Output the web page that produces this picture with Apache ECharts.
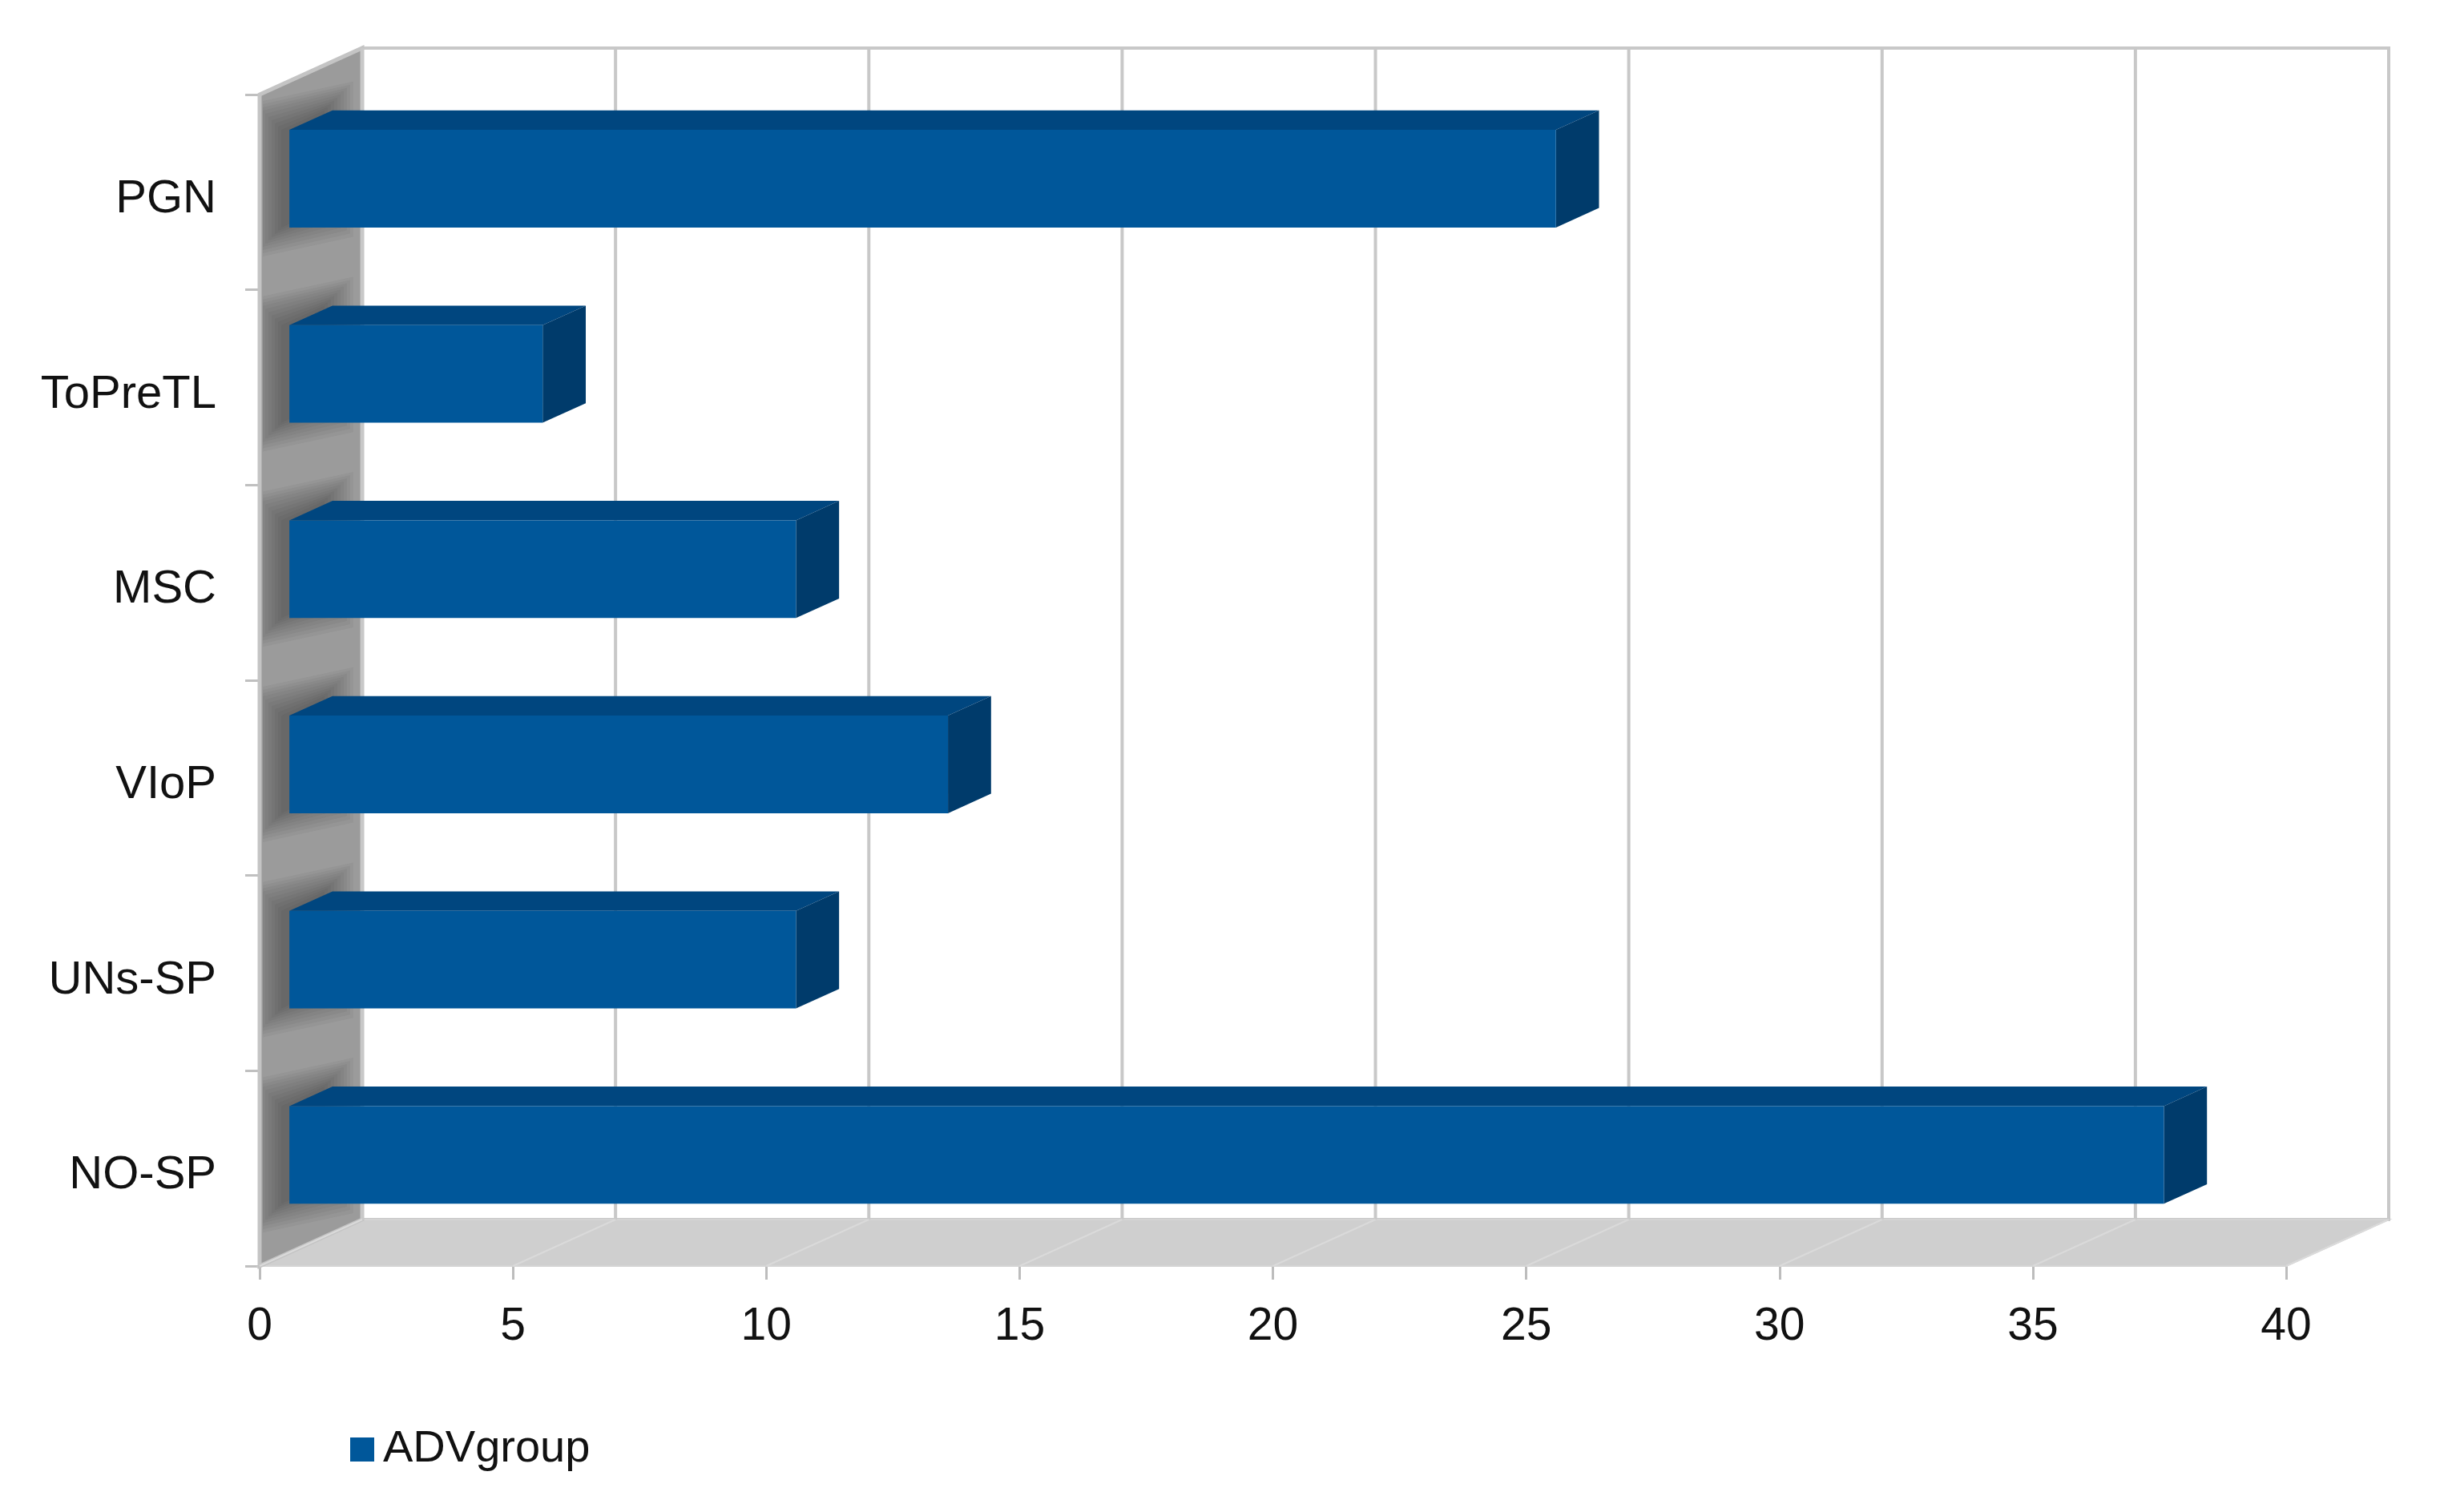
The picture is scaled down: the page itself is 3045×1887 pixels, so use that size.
<!DOCTYPE html>
<html>
<head>
<meta charset="utf-8">
<title>ADVgroup</title>
<script src="https://cdn.jsdelivr.net/npm/echarts@6/dist/echarts.min.js"></script>
<style>
  html, body { margin: 0; padding: 0; background: #fff; }
  #chart { width: 3045px; height: 1887px; }
</style>
</head>
<body>
<div id="chart"></div>
<script>
// data (bottom to top, as echarts draws a category y axis)
var categories = ['NO-SP', 'UNs-SP', 'VIoP', 'MSC', 'ToPreTL', 'PGN'];
var values = [37, 10, 13, 10, 5, 25];
var xTicks = [0, 5, 10, 15, 20, 25, 30, 35, 40];
var seriesName = 'ADVgroup';

// fake 3d depth of the plot box (pixels)
var DX = 128, DY = -58;
var FRONT = 0.29, BACK = 0.71;   // bar front / back plane as part of the depth

var myChart = echarts.init(document.getElementById('chart'));

// walls + floor
function drawFrame(params, api) {
  var cs = params.coordSys;
  var L = cs.x, T = cs.y, R = cs.x + cs.width, B = cs.y + cs.height;
  return {
    type: 'group',
    children: [
      { type: 'rect', shape: { x: L + DX, y: T + DY, width: cs.width, height: cs.height },
        style: { fill: '#fff', stroke: '#c8c8c8', lineWidth: 4 } },
      { type: 'polygon', shape: { points: [[L, B], [R, B], [R + DX, B + DY], [L + DX, B + DY]] },
        style: { fill: '#cfcfcf', stroke: '#d4d4d4', lineWidth: 2 } },
      { type: 'polygon', shape: { points: [[L, T], [L + DX, T + DY], [L + DX, B + DY], [L, B]] },
        style: { fill: '#9b9b9b', stroke: '#c4c4c4', lineWidth: 5 } }
    ]
  };
}

// grid lines on back wall and floor, one per tick
function drawGrid(params, api) {
  var cs = params.coordSys;
  var T = cs.y, B = cs.y + cs.height;
  var x = api.coord([api.value(0), categories[0]])[0];
  return {
    type: 'group',
    children: [
      { type: 'line', shape: { x1: x + DX, y1: T + DY, x2: x + DX, y2: B + DY },
        style: { stroke: '#c8c8c8', lineWidth: 4 } },
      { type: 'line', shape: { x1: x, y1: B, x2: x + DX, y2: B + DY },
        style: { stroke: '#dadada', lineWidth: 2 } }
    ]
  };
}

function barGeom(api) {
  var cat = api.value(1);
  var p0 = api.coord([0, cat]);
  var pv = api.coord([api.value(0), cat]);
  var h = api.size([0, 1])[1] * 0.5;
  var fdx = DX * FRONT, fdy = DY * FRONT;
  var ddx = DX * (BACK - FRONT), ddy = DY * (BACK - FRONT);
  return {
    wall: p0[0],
    x0: p0[0] + fdx, x1: pv[0] + fdx,
    yt: p0[1] - h / 2 + fdy, yb: p0[1] + h / 2 + fdy,
    ddx: ddx, ddy: ddy
  };
}

// soft shadow of each bar end on the side wall (stacked see-through layers)
function drawShadow(params, api) {
  var g = barGeom(api);
  var lo = g.wall + 4, hi = g.wall + DX - 3;
  function cx(x) { return Math.max(lo, Math.min(hi, x)); }
  var shift = -10, kids = [];
  for (var k = 9; k >= 0; k--) {
    var e = k * 4;
    kids.push({
      type: 'polygon',
      shape: { points: [
        [cx(g.x0 + shift - e), g.yt - e],
        [cx(g.x0 + g.ddx + shift + e), g.yt + g.ddy - e],
        [cx(g.x0 + g.ddx + shift + e), g.yb + g.ddy + e],
        [cx(g.x0 + shift - e), g.yb + e]
      ] },
      style: { fill: 'rgba(30,30,30,0.045)' }
    });
  }
  return { type: 'group', children: kids };
}

function drawBar(params, api) {
  var g = barGeom(api);
  var x0 = g.x0, x1 = g.x1, yt = g.yt, yb = g.yb, ddx = g.ddx, ddy = g.ddy;
  return {
    type: 'group',
    children: [
      { type: 'polygon', shape: { points: [[x0, yt], [x1, yt], [x1 + ddx, yt + ddy], [x0 + ddx, yt + ddy]] },
        style: { fill: '#00467f' } },
      { type: 'polygon', shape: { points: [[x1, yt], [x1 + ddx, yt + ddy], [x1 + ddx, yb + ddy], [x1, yb]] },
        style: { fill: '#003b6b' } },
      { type: 'rect', shape: { x: x0, y: yt, width: x1 - x0, height: yb - yt },
        style: { fill: '#00579a' } }
    ]
  };
}

var barData = values.map(function (v, i) { return [v, categories[i]]; });

myChart.setOption({
  animation: false,
  backgroundColor: '#fff',
  textStyle: { fontFamily: 'Liberation Sans' },
  grid: { left: 324, top: 118, width: 2529, height: 1462 },
  legend: {
    data: [seriesName],
    left: 432, top: 1776,
    icon: 'rect', itemWidth: 30, itemHeight: 30,
    textStyle: { fontSize: 56, color: '#111', padding: [0, 0, 0, 6] }
  },
  xAxis: {
    type: 'value', min: 0, max: 40, interval: 5,
    axisLine: { show: false },
    axisTick: { show: true, length: 17, lineStyle: { color: '#bdbdbd', width: 3 } },
    splitLine: { show: false },
    axisLabel: { fontSize: 57, color: '#111', margin: 48,
      formatter: function (v) { return xTicks.indexOf(v) >= 0 ? String(v) : ''; } }
  },
  yAxis: {
    type: 'category', data: categories,
    axisLine: { show: false },
    axisTick: { show: true, length: 18, lineStyle: { color: '#c0c0c0', width: 3 } },
    axisLabel: { fontSize: 58, color: '#111', margin: 54, verticalAlign: 'top', lineHeight: 18 }
  },
  series: [
    { type: 'custom', name: 'frame', z: 1, silent: true,
      data: [[0, categories[0]]], renderItem: drawFrame },
    { type: 'custom', name: 'grid', z: 2, silent: true,
      data: xTicks.map(function (v) { return [v, categories[0]]; }), renderItem: drawGrid },
    { type: 'custom', name: 'shadow', z: 2, silent: true,
      data: barData, renderItem: drawShadow },
    { type: 'custom', name: seriesName, z: 3,
      itemStyle: { color: '#00579a' },
      data: barData, renderItem: drawBar }
  ]
});
</script>
</body>
</html>
